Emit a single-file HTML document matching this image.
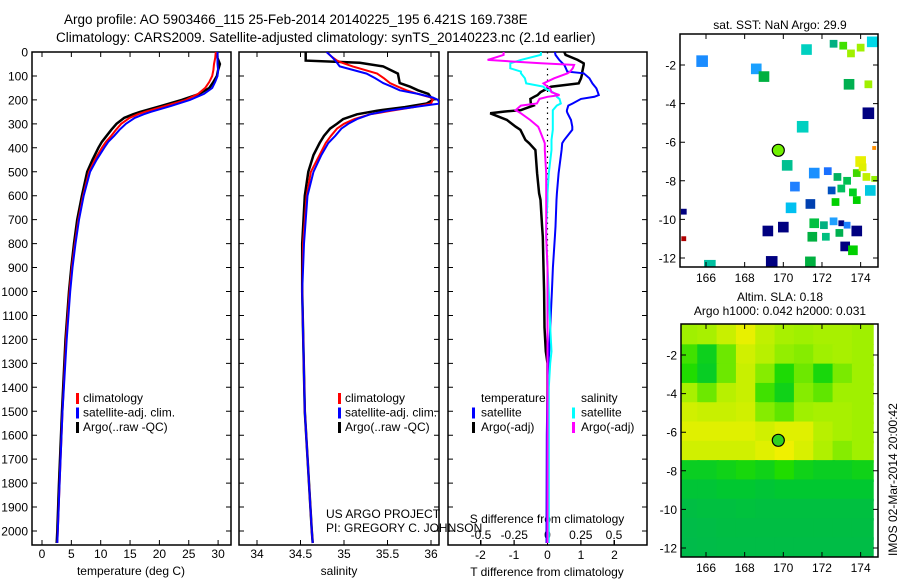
<!DOCTYPE html>
<html><head><meta charset="utf-8">
<style>
html,body{margin:0;padding:0;background:#fff;}
svg{display:block;font-family:"Liberation Sans",sans-serif;}
</style></head>
<body>
<svg id="fig" width="900" height="580" viewBox="0 0 900 580" xmlns="http://www.w3.org/2000/svg">
<text x="64" y="24" font-size="13.5">Argo profile: AO 5903466_115 25-Feb-2014 20140225_195 6.421S 169.738E</text>
<text x="56" y="42" font-size="13.5">Climatology: CARS2009. Satellite-adjusted climatology: synTS_20140223.nc (2.1d earlier)</text>
<text x="780" y="29" font-size="12" text-anchor="middle">sat. SST: NaN Argo: 29.9</text>
<text x="780" y="301" font-size="12" text-anchor="middle">Altim. SLA: 0.18</text>
<text x="780" y="315" font-size="12" text-anchor="middle">Argo h1000: 0.042 h2000: 0.031</text>
<text transform="translate(897,556) rotate(-90)" font-size="12">IMOS 02-Mar-2014 20:00:42</text>
<text x="326" y="518" font-size="12">US ARGO PROJECT</text>
<text x="326" y="532" font-size="12">PI: GREGORY C. JOHNSON</text>
<g id="g"></g>
</svg>
<script>
// ---- depth data (m) ----
const tDepth = [0,25,50,75,100,125,150,175,200,225,250,260,275,300,325,350,375,400,450,500,600,700,800,900,1000,1200,1500,1800,2000,2050];
const tArgo  = [29.8,29.9,30.3,30.0,29.8,29.2,28.5,26.8,23.8,20.3,16.7,15.5,14.0,12.7,11.8,11.0,10.2,9.6,8.6,7.7,6.8,6.0,5.45,5.0,4.6,4.0,3.4,2.9,2.6,2.5];
const tClim  = [29.6,29.5,29.3,29.2,29.0,28.5,27.8,26.6,24.5,21.0,17.5,16.3,14.9,13.5,12.6,11.8,10.9,10.2,9.0,8.0,7.0,6.2,5.6,5.1,4.7,4.1,3.5,3.0,2.7,2.6];
const tSat   = [29.9,29.9,29.9,30.0,29.9,29.5,29.0,27.6,25.2,22.0,18.5,17.3,15.8,14.3,13.2,12.3,11.3,10.6,9.3,8.2,7.1,6.3,5.7,5.2,4.8,4.2,3.5,3.0,2.7,2.6];
const sDepth = [0,20,36,45,60,90,110,130,145,160,175,190,200,215,230,245,260,280,300,320,350,380,430,500,600,800,1000,1500,2000,2050];
const sArgo  = [34.56,34.56,34.56,35.18,35.45,35.62,35.63,35.64,35.76,35.85,35.97,36.0,36.02,35.95,35.7,35.38,35.15,34.99,34.92,34.84,34.77,34.72,34.65,34.59,34.55,34.52,34.52,34.55,34.63,34.64];
const sClim  = [34.80,34.86,34.92,34.98,35.1,35.38,35.46,35.53,35.62,35.72,35.85,36.0,36.02,36.0,35.8,35.55,35.3,35.12,35.0,34.92,34.85,34.79,34.72,34.62,34.57,34.53,34.52,34.55,34.63,34.64];
const sSat   = [34.80,34.86,34.90,34.92,34.95,35.26,35.36,35.45,35.55,35.64,35.85,36.02,36.08,36.1,35.8,35.5,35.3,35.15,35.05,34.97,34.9,34.82,34.74,34.65,34.58,34.54,34.52,34.55,34.63,34.64];
const dDepth = [0,12,33,47,54,68,82,89,110,131,145,152,168,180,187,196,215,224,243,249,256,284,312,325,367,381,409,506,590,617,729,771,900,1000,1150,1250,1300,1400,1600,2000,2050];
const dTArgo = [0.5,0.54,0.9,1.08,1.08,1.06,1.04,1.04,1.0,0.93,0.1,0.0,-0.21,-0.3,-0.4,-0.51,-0.5,-0.42,-0.8,-1.3,-1.71,-1.21,-0.95,-0.81,-0.66,-0.55,-0.36,-0.31,-0.25,-0.21,-0.16,-0.14,-0.12,-0.1,-0.09,-0.05,0,0,0,0,0];
const dTSat  = [0.22,0.24,0.35,0.45,0.5,0.55,0.59,1.08,1.25,1.34,1.42,1.46,1.5,1.53,1.4,1.0,0.75,0.62,0.58,0.58,0.6,0.7,0.74,0.74,0.5,0.44,0.42,0.33,0.28,0.27,0.24,0.22,0.16,0.13,0.08,0.05,0.03,0,-0.02,-0.03,-0.03];
const dSSat  = [-0.05,-0.05,-0.2,-0.28,-0.28,-0.28,-0.2,-0.2,-0.17,-0.16,-0.03,-0.02,0.04,0.07,0.07,0.09,0.1,0.07,0.04,0.04,0.04,0.04,0.04,0.04,0.03,0.03,0.03,0.01,0,0,-0.01,-0.01,0,0.01,0.02,0.03,0.02,0.01,0.01,0.01,0.01];
const dSArgo = [-0.33,-0.33,-0.45,-0.05,0.2,0.19,0.17,0.15,0.05,-0.03,0.0,0.02,0.03,0.09,0.0,-0.06,-0.08,-0.2,-0.24,-0.22,-0.2,-0.13,-0.07,-0.06,-0.03,-0.02,-0.02,-0.01,-0.01,-0.01,-0.01,-0.01,0,0,0,0,0,0,0,0,0];
const depthTicks = [0,100,200,300,400,500,600,700,800,900,1000,1100,1200,1300,1400,1500,1600,1700,1800,1900,2000];
const tempTicks = [0,5,10,15,20,25,30];
const salTicks = [34,34.5,35,35.5,36];
const salTickLabels = ["34","34.5","35","35.5","36"];
const dTTicks = [-2,-1,0,1,2];
const dSTicks = [-0.5,-0.25,0,0.25,0.5];
const dSTickLabels = ["-0.5","-0.25","0","0.25","0.5"];
// ---- maps ----
const lonTicks = [166,168,170,172,174];
const latTicks = [-2,-4,-6,-8,-10,-12];
const argoLon = 169.74, argoLat = -6.42;
const sstLon = [165.8,168.6,169.0,171.2,171.0,173.4,174.4,170.2,171.6,170.6,170.4,171.4,164.85,169.2,170.0,173.8,173.2,169.4,171.4,173.6,164.85,166.2,174.6,172.6,173.1,173.5,174.0,174.4,172.3,172.8,173.3,173.8,174.3,174.7,172.5,173.0,173.6,174.5,174.0,174.7,171.6,172.1,172.6,173.0,171.5,172.2,172.9,173.3,174.1,172.7,173.8];
const sstLat = [-1.8,-2.2,-2.6,-1.2,-5.2,-3.0,-4.5,-7.2,-7.6,-8.3,-9.4,-9.2,-9.6,-10.6,-10.4,-10.6,-11.4,-12.2,-12.2,-11.6,-11.0,-12.4,-0.8,-0.9,-1.0,-1.4,-1.1,-3.0,-7.5,-7.8,-8.0,-7.6,-7.8,-7.9,-8.5,-8.4,-8.6,-8.5,-7.0,-6.3,-10.2,-10.3,-10.1,-10.2,-10.9,-10.9,-10.7,-10.3,-7.3,-9.1,-9.0];
const sstSize = [0.6,0.55,0.55,0.55,0.6,0.55,0.6,0.55,0.55,0.5,0.55,0.5,0.3,0.55,0.55,0.55,0.5,0.6,0.55,0.5,0.25,0.6,0.55,0.4,0.4,0.4,0.4,0.4,0.4,0.4,0.4,0.4,0.4,0.3,0.4,0.4,0.4,0.55,0.55,0.2,0.5,0.4,0.4,0.3,0.5,0.4,0.4,0.35,0.4,0.4,0.4];
const sstColor = ["#1a8cff","#1aa0ff","#00b040","#00d0c0","#00d0c0","#00b050","#000080","#00c090","#1a90ff","#2080ff","#00c0f0","#0040b0","#000080","#000080","#000080","#000080","#000080","#000080","#00b040","#00d000","#b00000","#00c0a0","#00d8e8","#00b080","#40e000","#a0f000","#a0f000","#a0f000","#1a70ff","#00b060","#00c050","#40d800","#c0f000","#90f000","#0050c0","#00c060","#00d020","#00c8e0","#e8f000","#ff9000","#00c040","#00b080","#20a0ff","#000080","#00b040","#00c080","#00b050","#1a80ff","#e0f000","#00d000","#00d000"];
const slaLat = [-0.9,-2,-3,-4,-5,-6,-7,-8,-9,-10,-11,-12];
const slaLon = [165.1,166.1,167.1,168.1,169.1,170.1,171.1,172.1,173.1,174.1];
const slaVal = [
 [0.7,0.72,0.8,0.88,0.78,0.72,0.7,0.72,0.72,0.7],
 [0.55,0.38,0.62,0.82,0.76,0.68,0.66,0.7,0.72,0.7],
 [0.5,0.35,0.62,0.8,0.66,0.48,0.62,0.45,0.64,0.7],
 [0.72,0.62,0.76,0.8,0.55,0.4,0.66,0.6,0.7,0.7],
 [0.82,0.8,0.8,0.82,0.66,0.6,0.7,0.72,0.72,0.7],
 [0.86,0.86,0.86,0.86,0.82,0.86,0.86,0.76,0.72,0.7],
 [0.82,0.82,0.82,0.82,0.86,0.9,0.84,0.74,0.66,0.7],
 [0.36,0.36,0.4,0.45,0.4,0.5,0.4,0.36,0.36,0.4],
 [0.26,0.26,0.3,0.3,0.26,0.3,0.3,0.3,0.3,0.3],
 [0.18,0.2,0.2,0.22,0.2,0.2,0.2,0.2,0.2,0.2],
 [0.15,0.16,0.18,0.18,0.18,0.18,0.18,0.18,0.18,0.18],
 [0.14,0.15,0.16,0.16,0.16,0.16,0.16,0.16,0.16,0.16]];

const NS="http://www.w3.org/2000/svg";
const G=document.getElementById('g');
function mk(tag,attrs,parent){const e=document.createElementNS(NS,tag);for(const k in attrs)e.setAttribute(k,attrs[k]);(parent||G).appendChild(e);return e;}
const TOP=52,BOT=545;
function yD(d){return TOP+d*0.2395;}
const P1={l:32,r:231,x:v=>42+(v)*5.87};
const P2={l:239,r:439,x:v=>257+(v-34)*87};
const P3={l:448,r:647,x:v=>547.5+v*33.5,xs:v=>547.5+v*133};

function frame(P,name,leftLabels){
  const f=mk('rect',{x:P.l,y:TOP,width:P.r-P.l,height:BOT-TOP,fill:'none',stroke:'#000','stroke-width':1.5});
  
  
  depthTicks.forEach(d=>{
    const y=yD(d);
    const t=mk('path',{d:`M${P.l},${y}h5M${P.r},${y}h-5`,stroke:'#000','stroke-width':1});
    
    
    if(leftLabels){
      const tx=mk('text',{x:28,y:y+4.5,'font-size':12,'text-anchor':'end'});
      tx.textContent=d;
      
      
    }
  });
}
function xticks(P,vals,labels,fx,ly,name,bottomOnly){
  vals.forEach((v,i)=>{
    const x=fx(v);
    const t=mk('path',{d:bottomOnly?`M${x},${BOT}v-5`:`M${x},${BOT}v-5M${x},${TOP}v5`,stroke:'#000','stroke-width':1});
    
    
    const tx=mk('text',{x:x,y:ly,'font-size':12,'text-anchor':'middle'});
    tx.textContent=labels[i];
    
    
  });
}
function line(depths,vals,fx,color,w,name,clip){
  const d=depths.map((z,i)=>(i?'L':'M')+fx(vals[i]).toFixed(1)+','+yD(z).toFixed(1)).join('');
  const p=mk('path',{d:d,fill:'none',stroke:color,'stroke-width':w,'stroke-linejoin':'miter','clip-path':clip});
  
  
}
function clip(id,P){const c=mk('clipPath',{id:id});mk('rect',{x:P.l,y:TOP,width:P.r-P.l,height:BOT-TOP},c);return `url(#${id})`;}
function label(x,y,txt,name,extra){const t=mk('text',Object.assign({x:x,y:y,'font-size':12},extra||{}));t.textContent=txt;return t;}
function legendMark(x,y,color,name){const m=mk('rect',{x:x,y:y-9,width:3,height:11,fill:color});}

// Panel 1 temperature
frame(P1,'temperature-panel',true);
xticks(P1,tempTicks,tempTicks.map(String),P1.x,558,'temperature-x');
label(131,575,'temperature (deg C)','temperature-x-axis-title',{'text-anchor':'middle'});
const c1=clip('c1',P1);
line(tDepth,tArgo,P1.x,'#000',2.5,'temperature-argo-line',c1);
line(tDepth,tClim,P1.x,'#f00',2,'temperature-climatology-line',c1);
line(tDepth,tSat,P1.x,'#00f',2,'temperature-satellite-line',c1);
[['climatology','#f00'],['satellite-adj. clim.','#00f'],['Argo(..raw -QC)','#000']].forEach((e,i)=>{legendMark(76,402+i*14.5,e[1],'temperature-legend-mark');label(83,402+i*14.5,e[0],'temperature-legend-entry');});

// Panel 2 salinity
frame(P2,'salinity-panel',false);
xticks(P2,salTicks,salTickLabels,P2.x,558,'salinity-x');
label(339,575,'salinity','salinity-x-axis-title',{'text-anchor':'middle'});
const c2=clip('c2',P2);
line(sDepth,sArgo,P2.x,'#000',2.5,'salinity-argo-line',c2);
line(sDepth,sClim,P2.x,'#f00',2,'salinity-climatology-line',c2);
line(sDepth,sSat,P2.x,'#00f',2,'salinity-satellite-line',c2);
[['climatology','#f00'],['satellite-adj. clim.','#00f'],['Argo(..raw -QC)','#000']].forEach((e,i)=>{legendMark(338,402+i*14.5,e[1],'salinity-legend-mark');label(345,402+i*14.5,e[0],'salinity-legend-entry');});

// Panel 3 differences
frame(P3,'difference-panel',false);
xticks(P3,dTTicks,dTTicks.map(String),P3.x,559,'t-difference-x',true);
xticks(P3,dSTicks,dSTickLabels,P3.xs,539,'s-difference-x',true);
label(547,523,'S difference from climatology','s-difference-axis-title',{'text-anchor':'middle'});
label(547,576,'T difference from climatology','t-difference-axis-title',{'text-anchor':'middle'});
const zl=mk('path',{d:`M547.5,${TOP}V${BOT}`,stroke:'#000','stroke-width':1.2,'stroke-dasharray':'1.5,4'});


const c3=clip('c3',P3);
line(dDepth,dTArgo,P3.x,'#000',2.5,'t-difference-argo-line',c3);
line(dDepth,dTSat,P3.x,'#00f',2,'t-difference-satellite-line',c3);
line(dDepth,dSSat,P3.xs,'#0ff',2,'s-difference-satellite-line',c3);
line(dDepth,dSArgo,P3.xs,'#f0f',2,'s-difference-argo-line',c3);
label(481,402,'temperature','difference-legend-temperature-header');
label(581,402,'salinity','difference-legend-salinity-header');
legendMark(472,416.5,'#00f','difference-legend-mark');label(481,416.5,'satellite','difference-legend-entry');
legendMark(472,431,'#000','difference-legend-mark');label(481,431,'Argo(-adj)','difference-legend-entry');
legendMark(572,416.5,'#0ff','difference-legend-mark');label(581,416.5,'satellite','difference-legend-entry');
legendMark(572,431,'#f0f','difference-legend-mark');label(581,431,'Argo(-adj)','difference-legend-entry');

// Maps
function mapAxes(M,name){
  lonTicks.forEach(v=>{const x=M.x(v);const t=mk('path',{d:`M${x},${M.b}v-5M${x},${M.t}v5`,stroke:'#000'});label(x,M.b+15,String(v),name+'-lon-tick-label',{'text-anchor':'middle'});});
  latTicks.forEach(v=>{const y=M.y(v);const t=mk('path',{d:`M${M.l},${y}h5M${M.r},${y}h-5`,stroke:'#000'});label(M.l-4,y+4.5,String(v),name+'-lat-tick-label',{'text-anchor':'end'});});
  const f=mk('rect',{x:M.l,y:M.t,width:M.r-M.l,height:M.b-M.t,fill:'none',stroke:'#000','stroke-width':1.5});
  
  
  const d=mk('circle',{cx:M.x(argoLon),cy:M.y(argoLat),r:6,fill:M.dot,stroke:'#000','stroke-width':1.2});
  
  
}
const M1={l:680,r:878,t:34,b:267,x:v=>706+(v-166)*19.33,y:v=>65-(v+2)*19.3,dot:'#70f000'};
const M2={l:681,r:878,t:324,b:557,x:v=>706+(v-166)*19.33,y:v=>355-(v+2)*19.3,dot:'#30d020'};
const cm1=mk('clipPath',{id:'cm1'});mk('rect',{x:M1.l,y:M1.t,width:M1.r-M1.l,height:M1.b-M1.t},cm1);
const gm1=mk('g',{'clip-path':'url(#cm1)'});


sstLon.forEach((lo,i)=>{const s=sstSize[i]*19.33/2;const r=mk('rect',{x:M1.x(lo)-s,y:M1.y(sstLat[i])-s,width:2*s,height:2*s,fill:sstColor[i]},gm1);});
mapAxes(M1,'sst-map');

function slaColor(v){const st=[[0,[0,176,96]],[0.3,[0,200,48]],[0.5,[32,220,0]],[0.7,[160,240,0]],[0.9,[240,240,0]],[1,[255,230,0]]];
  for(let i=1;i<st.length;i++){if(v<=st[i][0]){const a=st[i-1],b=st[i],f=(v-a[0])/(b[0]-a[0]);return 'rgb('+a[1].map((c,k)=>Math.round(c+(b[1][k]-c)*f)).join(',')+')';}}return 'rgb(255,230,0)';}
const cm2=mk('clipPath',{id:'cm2'});mk('rect',{x:M2.l,y:M2.t,width:M2.r-M2.l,height:M2.b-M2.t},cm2);
const gm2=mk('g',{'clip-path':'url(#cm2)'});


slaLat.forEach((la,i)=>slaLon.forEach((lo,j)=>{const h=19.4;const r=mk('rect',{x:M2.x(lo)-h*0.55,y:M2.y(la)-h*0.55,width:h*1.1+0.5,height:h*1.1+0.5,fill:slaColor(slaVal[i][j])},gm2);}));
mapAxes(M2,'sla-map');
</script>
</body></html>
